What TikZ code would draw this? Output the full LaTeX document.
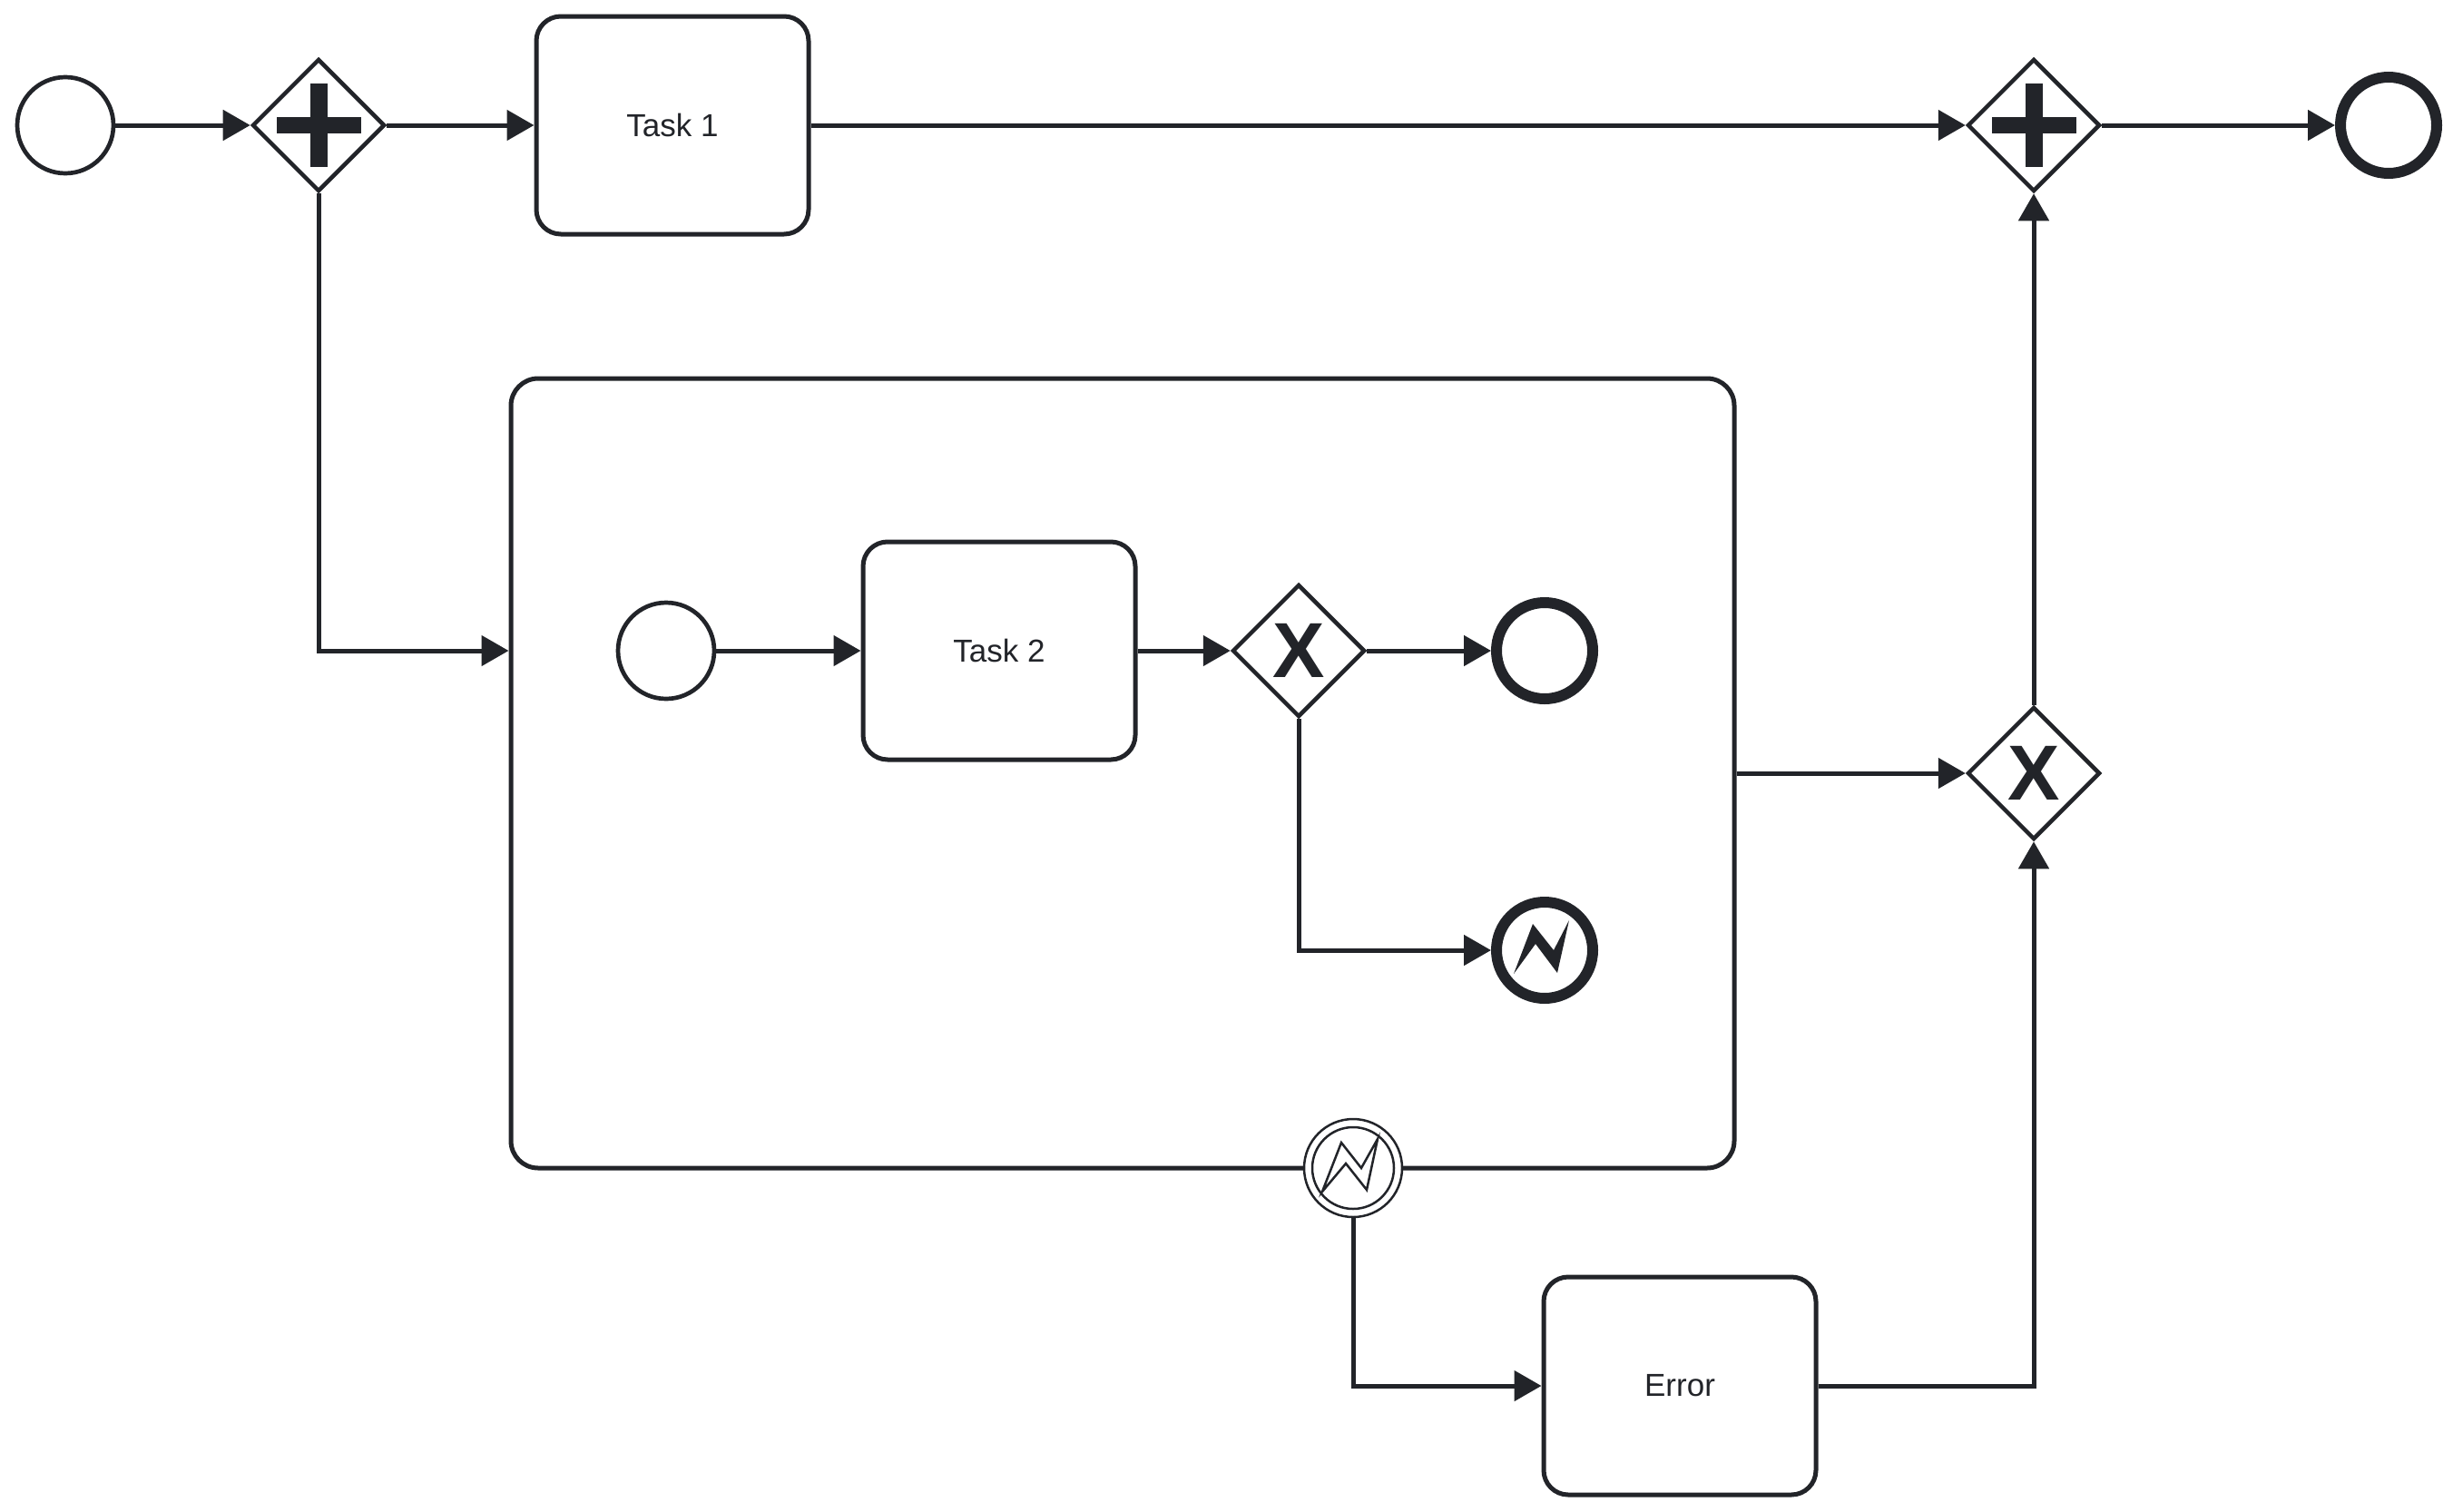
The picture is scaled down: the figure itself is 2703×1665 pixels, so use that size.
\documentclass[tikz,border=0pt]{standalone}
\usepackage{fontspec}
\setmainfont{Liberation Sans}
\usetikzlibrary{shapes.geometric,arrows.meta,calc}
\definecolor{ink}{RGB}{34,36,41}
\begin{document}
\begin{tikzpicture}[x=1pt,y=-1pt,
  every node/.style={inner sep=0pt},
  conn/.style={draw=ink, line width=5pt, -{Triangle[length=30pt,width=33pt]}},
  startev/.style={circle, draw=ink, line width=4.7pt, minimum size=106pt, fill=white},
  endev/.style={circle, draw=ink, line width=12pt, minimum size=106pt, fill=white},
  bndev/.style={circle, draw=ink, line width=2.5pt, minimum size=108pt, fill=white},
  gate/.style={diamond, aspect=1, draw=ink, line width=4.5pt, minimum size=146pt, fill=white},
  gxmark/.style={font=\fontsize{86}{86}\selectfont\bfseries, text=ink},
  taskbox/.style={rectangle, rounded corners=27pt, draw=ink, line width=5pt, minimum width=300pt, minimum height=240pt, fill=white, font=\fontsize{35}{40}\selectfont, text=ink},
  subbox/.style={rectangle, rounded corners=30pt, draw=ink, line width=5pt, minimum width=1348pt, minimum height=870pt, fill=white}
]
\useasboundingbox (0,0) rectangle (2703,1665);

% top row
\node[startev] (start) at (72,138) {};
\node[gate] (g1) at (351,138) {};
\node[taskbox] (t1) at (741,138) {Task 1};
\node[gate] (g4) at (2241,138) {};
\node[endev] (end) at (2632,138) {};

% subprocess
\node[subbox] (sub) at (1237,852) {};
\node[startev] (s2) at (734,717) {};
\node[taskbox] (t2) at (1101,717) {Task 2};
\node[gate] (gx) at (1431,717) {};
\node[gxmark] (gxm) at (1431,717) {X};
\node[endev] (e2) at (1702,717) {};
\node[endev] (ee) at (1702,1047) {};
\fill[ink, shift={(ee)}] (-34,26) -- (-13,-29) -- (10,0) -- (27,-33) -- (14,25) -- (-10,-7) -- cycle;

% boundary event
\node[bndev] (b) at (1491,1287) {};
\draw[ink, line width=2.5pt] (b) circle[radius=45];
\draw[ink, line width=2.5pt, line join=miter, shift={(b)}] (-34,26) -- (-13,-28) -- (9,0) -- (27,-32) -- (15,24) -- (-8,-5) -- cycle;

% error task and right gateway
\node[taskbox] (et) at (1851,1527) {Error};
\node[gate] (gx2) at (2241,852) {};
\node[gxmark] (gx2m) at (2241,852) {X};

% plus marks
\foreach \g in {g1,g4}{
  \fill[ink, shift={(\g)}] (-46.5,-9) rectangle (46.5,9);
  \fill[ink, shift={(\g)}] (-9.5,-46) rectangle (9.5,46);
}

% connectors
\draw[conn] (start) -- (g1);
\draw[conn] (g1) -- (t1);
\draw[conn] (t1) -- (g4);
\draw[conn] (g4) -- (end);
\draw[conn] (g1.south) |- (sub.west |- s2);
\draw[conn] (s2) -- (t2);
\draw[conn] (t2) -- (gx);
\draw[conn] (gx) -- (e2);
\draw[conn] (gx.south) |- (ee.west);
\draw[conn] (sub.east) -- (gx2.west);
\draw[conn] (gx2.north) -- (g4.south);
\draw[conn] (b.south) |- (et.west);
\draw[conn] (et.east) -| (gx2.south);
\end{tikzpicture}
\end{document}
